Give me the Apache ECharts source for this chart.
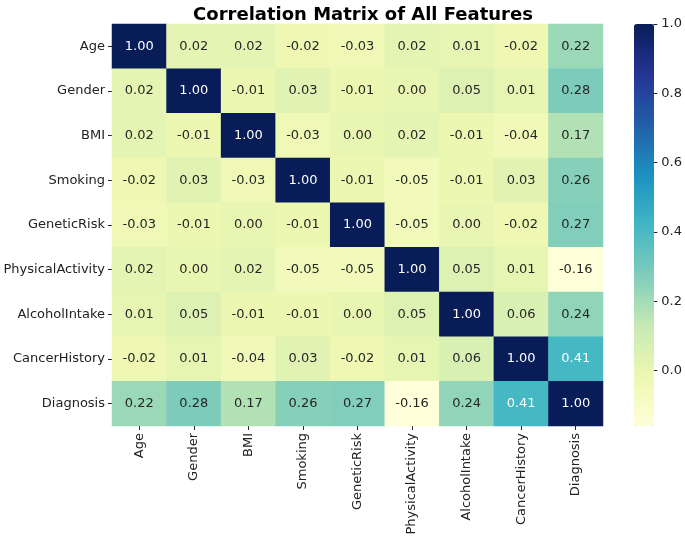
<!DOCTYPE html>
<html>
<head>
<meta charset="utf-8">
<script src="https://cdn.jsdelivr.net/npm/echarts@6/dist/echarts.min.js"></script>
<style>html,body{margin:0;padding:0;background:#fff}#c{width:685px;height:541px}</style>
</head>
<body>
<div id="c"></div>
<script>
const features = ['Age','Gender','BMI','Smoking','GeneticRisk','PhysicalActivity','AlcoholIntake','CancerHistory','Diagnosis'];
const rowAge              = [1.00, 0.02, 0.02, -0.02, -0.03, 0.02, 0.01, -0.02, 0.22];
const rowGender           = [0.02, 1.00, -0.01, 0.03, -0.01, 0.00, 0.05, 0.01, 0.28];
const rowBMI              = [0.02, -0.01, 1.00, -0.03, 0.00, 0.02, -0.01, -0.04, 0.17];
const rowSmoking          = [-0.02, 0.03, -0.03, 1.00, -0.01, -0.05, -0.01, 0.03, 0.26];
const rowGeneticRisk      = [-0.03, -0.01, 0.00, -0.01, 1.00, -0.05, 0.00, -0.02, 0.27];
const rowPhysicalActivity = [0.02, 0.00, 0.02, -0.05, -0.05, 1.00, 0.05, 0.01, -0.16];
const rowAlcoholIntake    = [0.01, 0.05, -0.01, -0.01, 0.00, 0.05, 1.00, 0.06, 0.24];
const rowCancerHistory    = [-0.02, 0.01, -0.04, 0.03, -0.02, 0.01, 0.06, 1.00, 0.41];
const rowDiagnosis        = [0.22, 0.28, 0.17, 0.26, 0.27, -0.16, 0.24, 0.41, 1.00];
const colorbarTicks = [0.0, 0.2, 0.4, 0.6, 0.8, 1.0];
const colorMin = -0.16, colorMax = 1.0;

const rows = [rowAge,rowGender,rowBMI,rowSmoking,rowGeneticRisk,rowPhysicalActivity,rowAlcoholIntake,rowCancerHistory,rowDiagnosis];
const data = [];
rows.forEach((r, yi) => r.forEach((v, xi) => {
  data.push({value:[xi, yi, v], label:{color: v > 0.35 ? '#ffffff' : '#262626'}});
}));
const FONT = 'DejaVu Sans';
const ylgnbu = ['#ffffd9','#edf8b1','#c7e9b4','#7fcdbb','#41b6c4','#1d91c0','#225ea8','#253494','#081d58'];

const chart = echarts.init(document.getElementById('c'), null, {renderer:'canvas'});
chart.setOption({
  backgroundColor:'#fff',
  animation:false,
  title:{text:'Correlation Matrix of All Features', left:358, top:1, textAlign:'center',
    textStyle:{fontFamily:FONT, fontWeight:'bold', fontSize:18, color:'#000'}},
  grid:[
    {left:112, top:24, width:491, height:402},
    {left:634, top:24, width:20, height:402}
  ],
  xAxis:[
    {type:'category', data:features, gridIndex:0,
      axisLine:{show:false}, splitLine:{show:false},
      axisTick:{show:true, alignWithLabel:true, length:4, lineStyle:{color:'#222'}},
      axisLabel:{rotate:90, fontFamily:FONT, fontSize:13, color:'#222', margin:7, interval:0}},
    {type:'category', data:['c'], gridIndex:1, show:false}
  ],
  yAxis:[
    {type:'category', data:features, inverse:true, gridIndex:0,
      axisLine:{show:false}, splitLine:{show:false},
      axisTick:{show:true, alignWithLabel:true, length:4, lineStyle:{color:'#222'}},
      axisLabel:{fontFamily:FONT, fontSize:13, color:'#222', margin:7, interval:0}},
    {type:'value', gridIndex:1, min:colorMin, max:colorMax, position:'right',
      axisLine:{show:false}, splitLine:{show:false},
      axisTick:{show:true, length:4, customValues:colorbarTicks, lineStyle:{color:'#222'}},
      axisLabel:{show:true, customValues:colorbarTicks, fontFamily:FONT, fontSize:13, color:'#222', margin:8,
        formatter:v=>Number(v).toFixed(1)}}
  ],
  visualMap:{type:'continuous', min:colorMin, max:colorMax, seriesIndex:0, calculable:false,
    showLabel:false, text:null, orient:'vertical', left:634, top:24, padding:0,
    itemWidth:20, itemHeight:402, inRange:{color:ylgnbu}},
  series:[{
    type:'heatmap', xAxisIndex:0, yAxisIndex:0, data:data,
    label:{show:true, fontFamily:FONT, fontSize:13, formatter:p=>p.value[2].toFixed(2)},
    itemStyle:{borderWidth:0},
    emphasis:{disabled:true}
  }]
});
</script>
</body>
</html>
